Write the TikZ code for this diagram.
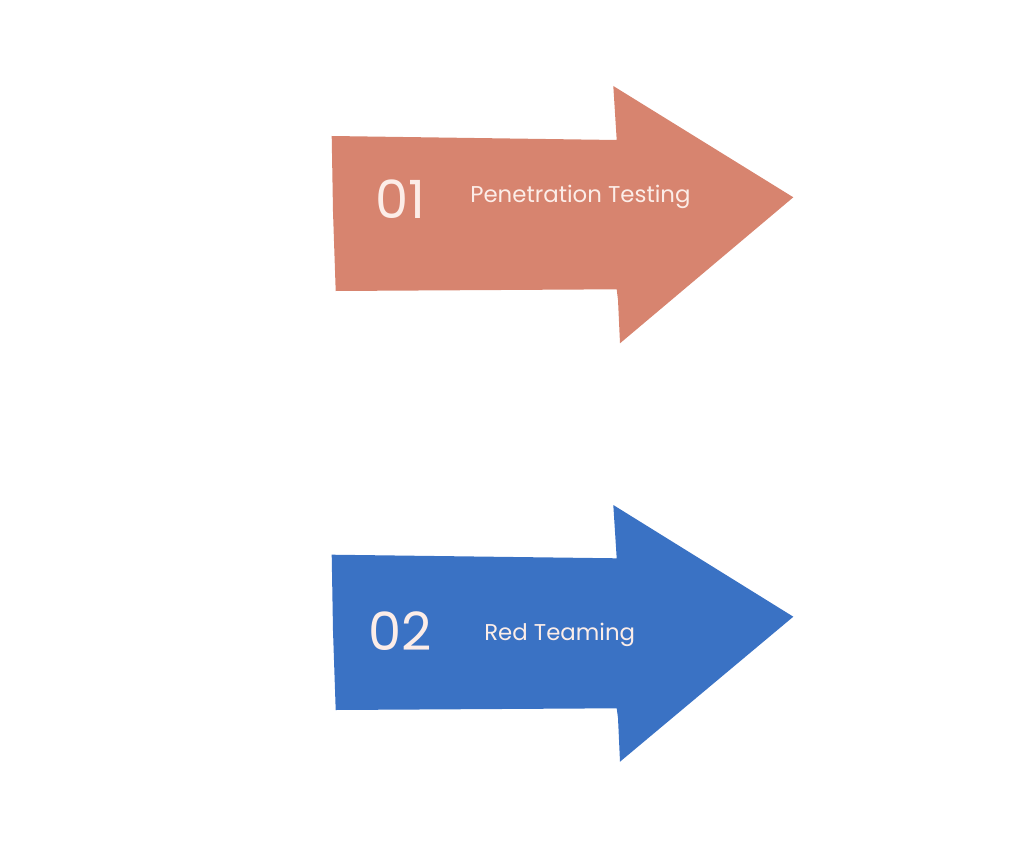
\documentclass[tikz,border=0pt]{standalone}
\usepackage{fontspec}
\setmainfont{Poppins}
\usepackage{tikz}
\definecolor{salmon}{HTML}{D7846F}
\definecolor{cobalt}{HTML}{3A72C4}
\definecolor{blush}{HTML}{FCEDE8}

\begin{document}
\begin{tikzpicture}[x=0.02cm,y=-0.02cm,
  num/.style={text=blush,font=\fontsize{30}{30}\selectfont,inner sep=0pt,anchor=base},
  lbl/.style={text=blush,font=\fontsize{13}{13}\selectfont,inner sep=0pt,anchor=base west}]
\useasboundingbox (0,0) rectangle (1024,858);
% first arrow
\fill[salmon] (331.7,136) -- (616.7,140) -- (613.3,86) -- (793.3,197.3) -- (620,343.3) -- (618,300) -- (616.7,289.3) -- (335.7,291) -- (333,212) -- cycle;
\node[num] (n1) at (400,218) {01};
\node[lbl] (t1) at (470,203) {Penetration Testing};
% second arrow
\fill[cobalt] (331.7,554.7) -- (616.7,558.3) -- (613.3,505) -- (793.3,616.7) -- (620,761.7) -- (618,718) -- (616.7,708.3) -- (335.7,710) -- (333,631) -- cycle;
\node[num] (n2) at (400,650) {02};
\node[lbl] (t2) at (484,640) {Red Teaming};
\end{tikzpicture}
\end{document}
